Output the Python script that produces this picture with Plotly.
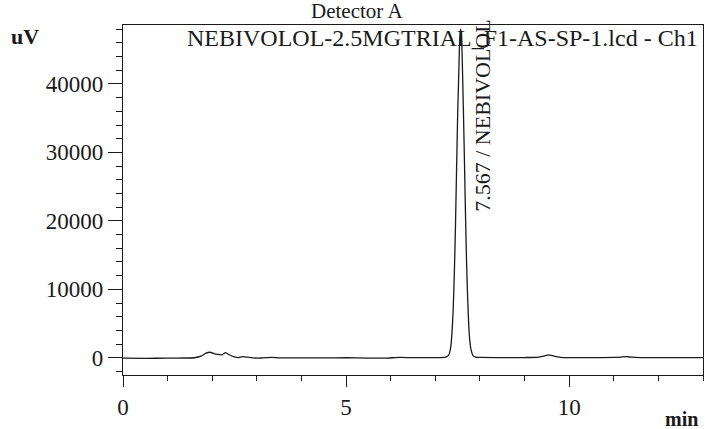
import plotly.graph_objects as go

# Chromatogram points (time in min, signal in uV)
times = [0.0, 0.5, 1.0, 1.4, 1.6, 1.75, 1.85, 1.95, 2.05, 2.15, 2.22, 2.3, 2.38, 2.5,
         2.6, 2.68, 2.78, 2.9, 3.1, 3.33, 3.5, 4.0, 4.5, 5.0, 5.5, 5.9, 6.2, 6.5,
         7.0, 7.2, 7.25, 7.3, 7.325, 7.35, 7.375, 7.4, 7.425, 7.45, 7.475, 7.5,
         7.53, 7.545, 7.567, 7.585, 7.6, 7.63, 7.65, 7.675, 7.7, 7.725, 7.75,
         7.775, 7.8, 7.85, 7.9, 8.0, 8.5, 9.0, 9.3, 9.42, 9.54, 9.66, 9.8, 10.0,
         10.5, 11.0, 11.15, 11.28, 11.4, 11.6, 12.0, 12.5, 13.0]
signal = [-50, -60, -40, -20, 20, 250, 650, 820, 600, 500, 430, 780, 450, 150,
          50, 180, 120, 0, -20, 80, 0, -10, 0, 20, -40, -30, 80, 30,
          40, 80, 150, 400, 900, 1800, 3800, 6900, 12000, 18600, 27000, 35200,
          42500, 46200, 48000, 47200, 44500, 36000, 29800, 21500, 14100, 8700, 4700,
          2400, 1200, 300, 120, 60, 40, 50, 80, 250, 450, 250, 80, 40,
          30, 60, 100, 180, 100, 50, 40, 30, 30]

peak_time = 7.567
peak_name = "NEBIVOLOL"
detector = "Detector A"
file_label = "NEBIVOLOL-2.5MGTRIAL_F1-AS-SP-1.lcd - Ch1"
x_ticks = [0, 5, 10]
y_ticks = [0, 10000, 20000, 30000, 40000]

FONT = "Liberation Serif, Times New Roman, serif"
INK = "#1a1a1a"

fig = go.Figure()
fig.add_trace(go.Scatter(
    x=times, y=signal, mode="lines",
    line=dict(color=INK, width=1.3, shape="spline", smoothing=0.4),
    hoverinfo="skip", showlegend=False,
))

fig.update_layout(
    width=705, height=429,
    margin=dict(l=123, r=2, t=25, b=54, autoexpand=False),
    paper_bgcolor="white", plot_bgcolor="white",
    font=dict(family=FONT, color=INK, size=23),
    showlegend=False,
)
fig.update_xaxes(
    range=[0, 13], tickvals=x_ticks, ticktext=[str(v) for v in x_ticks],
    showgrid=False, zeroline=False,
    showline=True, linecolor=INK, linewidth=1.3, mirror=True,
    ticks="outside", ticklen=11, tickwidth=1.3, tickcolor=INK,
    minor=dict(dtick=1, tick0=0, ticks="outside", ticklen=5, tickwidth=1.3,
               tickcolor=INK, showgrid=False),
    tickfont=dict(family=FONT, size=23),
    ticklabelstandoff=0,
)
fig.update_yaxes(
    range=[-2500, 48600], tickvals=y_ticks, ticktext=[str(v) for v in y_ticks],
    showgrid=False, zeroline=False,
    showline=True, linecolor=INK, linewidth=1.3, mirror=True,
    ticks="outside", ticklen=14, tickwidth=1.3, tickcolor=INK,
    minor=dict(dtick=2000, tick0=0, ticks="outside", ticklen=6, tickwidth=1.3,
               tickcolor=INK, showgrid=False),
    tickfont=dict(family=FONT, size=23),
    ticklabelstandoff=0,
)

fig.add_annotation(text=detector, xref="paper", yref="paper",
                   x=(357 - 123) / 580, y=1 + (25 - 11) / 350,
                   xanchor="center", yanchor="middle", showarrow=False,
                   font=dict(family=FONT, size=21))
fig.add_annotation(text=file_label, xref="paper", yref="paper",
                   x=1 - 3 / 580, y=1 - (38 - 25) / 350,
                   xanchor="right", yanchor="middle", showarrow=False,
                   font=dict(family=FONT, size=24))
fig.add_annotation(text="<b>uV</b>", xref="paper", yref="paper",
                   x=-(123 - 25) / 580, y=1 - (37 - 25) / 350,
                   xanchor="center", yanchor="middle", showarrow=False,
                   font=dict(family=FONT, size=22))
fig.add_annotation(text="<b>min</b>", xref="paper", yref="paper",
                   x=1 - 3 / 580, y=-(419 - 375) / 350,
                   xanchor="right", yanchor="middle", showarrow=False,
                   font=dict(family=FONT, size=20))
fig.add_annotation(text=f"{peak_time:.3f} / {peak_name}", xref="x", yref="y",
                   x=8.04, y=35300, textangle=-90,
                   xanchor="center", yanchor="middle", showarrow=False,
                   font=dict(family=FONT, size=22))

fig.write_html("out.html", config={"displayModeBar": False},
               post_script="document.body.style.margin='0px';document.body.style.overflow='hidden';")
